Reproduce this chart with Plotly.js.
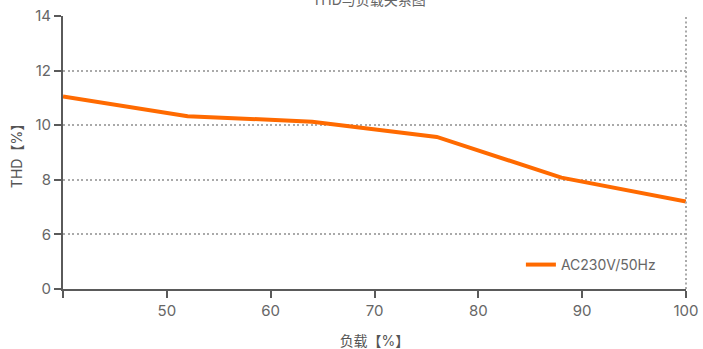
<!DOCTYPE html>
<html><head><meta charset="utf-8">
<script src="https://cdn.plot.ly/plotly-3.0.1.min.js"></script>
<style>html,body{margin:0;padding:0;background:#fff}#c{width:703px;height:349px}</style>
</head><body><div id="c"></div>
<script>
const load = [40, 52, 64, 76, 88, 100];
const thd = [11.05, 10.33, 10.13, 9.57, 8.08, 7.2];
const yTickValues = [0, 6, 8, 10, 12, 14];
const xTickValues = [40, 50, 60, 70, 80, 90, 100];
const seriesName = 'AC230V/50Hz';
const chartTitle = 'THD与负载关系图';

// piecewise axis: 0–6 takes one band, then one band per 2%
function ymap(v){ return v <= 6 ? v/6 : 1 + (v-6)/2; }

const font = 'Inter, "Noto Sans CJK SC", sans-serif';
const axCol = '#5a5a5a';
const gridCol = '#aaaaaa';
const data = [{
  x: load, y: thd.map(ymap), type: 'scatter', mode: 'lines', name: seriesName,
  line: {color: '#ff6a00', width: 4}
}];
const layout = {
  width: 703, height: 349,
  margin: {l: 63, r: 17, t: 16, b: 60},
  paper_bgcolor: '#fff', plot_bgcolor: '#fff',
  font: {family: font, color: '#666', size: 14},
  title: {text: chartTitle, x: 0.525, xanchor: 'center', yref: 'container', y: 0.985, yanchor: 'bottom',
          font: {size: 14, color: '#666', family: font}},
  xaxis: {range: [40, 100], tickvals: xTickValues, ticktext: xTickValues.map(v => v === 40 ? '' : String(v)),
          showgrid: false, zeroline: false, showline: true, linecolor: axCol, linewidth: 2,
          ticks: 'outside', ticklen: 7, tickwidth: 2, tickcolor: axCol,
          tickfont: {size: 15, color: '#666'},
          title: {text: '负载【%】', standoff: 22, font: {size: 14, color: '#555'}}},
  yaxis: {range: [0, 5], tickvals: yTickValues.map(ymap), ticktext: yTickValues.map(String),
          showgrid: true, gridcolor: gridCol, griddash: '2px,2.5px', gridwidth: 2,
          zeroline: false, showline: true, linecolor: axCol, linewidth: 2,
          ticks: 'outside', ticklen: 7, tickwidth: 2, tickcolor: axCol,
          tickfont: {size: 15, color: '#666'},
          title: {text: 'THD【%】', standoff: 9, font: {size: 14, color: '#555'}}},
  shapes: [{type: 'line', xref: 'paper', yref: 'paper', x0: 1, x1: 1, y0: 0, y1: 1,
            line: {color: gridCol, width: 2, dash: '2px,2.5px'}}],
  showlegend: true,
  legend: {x: 0.735, y: 0.088, xanchor: 'left', yanchor: 'middle', bgcolor: 'rgba(0,0,0,0)',
           font: {size: 14, color: '#666'}}
};
Plotly.newPlot('c', data, layout, {displayModeBar: false, staticPlot: true});
</script></body></html>
